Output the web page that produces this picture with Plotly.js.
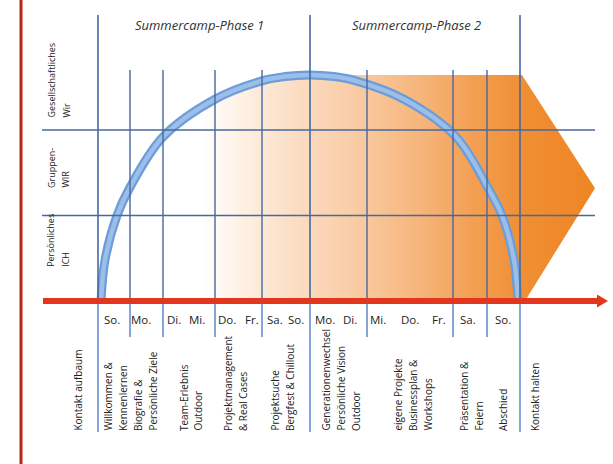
<!DOCTYPE html>
<html>
<head>
<meta charset="utf-8">
<script src="https://cdn.plot.ly/plotly-3.0.1.min.js"></script>
<style>html,body{margin:0;padding:0;background:#fff}#chart{width:613px;height:464px}</style>
</head>
<body>
<div id="chart"></div>
<script>
// ---------- DATA ----------
const phaseTitles = ["Summercamp-Phase 1", "Summercamp-Phase 2"];
const levelLabels = [["Gesellschaftliches", "Wir"], ["Gruppen-", "WIR"], ["Persönliches", "ICH"]];
const levels = [1, 2];
const dayLabels = ["So.", "Mo.", "Di.", "Mi.", "Do.", "Fr.", "Sa.", "So.", "Mo.", "Di.", "Mi.", "Do.", "Fr.", "Sa.", "So."];
const activities = [
  ["Kontakt aufbaum"],
  ["Willkommen &", "Kennenlernen", "Biografie &", "Persönliche Ziele"],
  ["Team-Erlebnis", "Outdoor"],
  ["Projektmanagement", "& Real Cases"],
  ["Projektsuche", "Bergfest & Chillout"],
  ["Generationenwechsel", "Persönliche Vision", "Outdoor"],
  ["eigene Projekte", "Businessplan &", "Workshops"],
  ["Präsentation &", "Feiern"],
  ["Abschied"],
  ["Kontakt halten"]
];
// curve of development: x on timeline, y in levels
const arcX = [101, 105, 117, 130, 163, 215, 262, 285, 309, 334, 356, 404, 456, 489, 502, 514, 518];
const arcY = [0, 0.48, 1, 1.33, 1.92, 2.36, 2.575, 2.625, 2.643, 2.625, 2.575, 2.36, 1.92, 1.3, 1, 0.48, 0];
// orange arrow outline beyond the curve top
const arrowX = [522, 595, 525];
const arrowY = [2.643, 1.32, 0];

// ---------- GEOMETRY (layout) ----------
const dividerLong = [98, 310, 520];
const dividerShort = [130, 163, 215, 262, 367, 453, 487];
const dayX = [112, 141, 174, 197, 227, 252, 275, 296, 325, 350, 378, 410, 439, 468, 503];
const activityX = [78, 130.5, 191, 235.5, 282.5, 341, 413, 471.5, 503, 535];
const phaseX = [199, 416];
const levelLabelBase = [2.117, 1.298, 0.37];
const Y_TOP = 3.520, Y_BOT = -1.906;

const gridDark = '#46689f', gridLight = '#85a6d6';
const shapes = [];
dividerLong.forEach(x => {
  shapes.push({type: 'line', xref: 'x', yref: 'y', x0: x, x1: x, y0: 0, y1: 3.345, line: {color: gridDark, width: 1.6}, layer: 'above'});
  shapes.push({type: 'line', xref: 'x', yref: 'y', x0: x, x1: x, y0: -1.532, y1: 0, line: {color: gridLight, width: 2}, layer: 'above'});
});
dividerShort.forEach(x => {
  shapes.push({type: 'line', xref: 'x', yref: 'y', x0: x, x1: x, y0: 0, y1: 2.702, line: {color: gridDark, width: 1.4}, layer: 'above'});
  shapes.push({type: 'line', xref: 'x', yref: 'y', x0: x, x1: x, y0: -0.421, y1: 0, line: {color: gridLight, width: 2}, layer: 'above'});
});
levels.forEach(l => {
  shapes.push({type: 'line', xref: 'x', yref: 'y', x0: 42, x1: 595, y0: l, y1: l, line: {color: gridDark, width: 1.6}, layer: 'above'});
});
// red time axis with arrow
shapes.push({type: 'line', xref: 'x', yref: 'y', x0: 43, x1: 600, y0: 0, y1: 0, line: {color: '#e2361f', width: 6}, layer: 'above'});
shapes.push({type: 'path', xref: 'x', yref: 'y', path: 'M 597,0.075 L 608,0 L 597,-0.075 Z', fillcolor: '#e2361f', line: {width: 0}, layer: 'above'});
// left red border
shapes.push({type: 'line', xref: 'x', yref: 'y', x0: 21, x1: 21, y0: Y_BOT, y1: Y_TOP, line: {color: '#b0281c', width: 3}, layer: 'above'});

const annotations = [];
const txt = '#222';
phaseTitles.forEach((t, i) => annotations.push({x: phaseX[i], y: 3.228, xref: 'x', yref: 'y', text: '<i>' + t + '</i>', showarrow: false, font: {family: 'Open Sans', size: 13, color: '#333'}}));
dayLabels.forEach((d, i) => annotations.push({x: dayX[i], y: -0.222, xref: 'x', yref: 'y', text: d, showarrow: false, font: {family: 'Open Sans', size: 11.5, color: txt}}));
activities.forEach((lines, g) => {
  const n = lines.length;
  lines.forEach((ln, i) => annotations.push({
    x: activityX[g] + (i - (n - 1) / 2) * 15, y: -1.544, xref: 'x', yref: 'y', text: ln, textangle: -90,
    xanchor: 'center', yanchor: 'bottom', showarrow: false, font: {family: 'Open Sans', size: 10, color: txt}
  }));
});
levelLabels.forEach((lines, g) => {
  const n = lines.length;
  lines.forEach((ln, i) => annotations.push({
    x: 58.5 + (i - (n - 1) / 2) * 15, y: levelLabelBase[g], xref: 'x', yref: 'y', text: ln, textangle: -90,
    xanchor: 'center', yanchor: 'bottom', showarrow: false, font: {family: 'Open Sans', size: 9, color: txt}
  }));
});

// orange field: left half of curve, flat top, arrow tip
const half = arcY.indexOf(Math.max(...arcY));
const fillX = arcX.slice(0, half + 1).concat(arrowX, [arcX[0]]);
const fillY = arcY.slice(0, half + 1).concat(arrowY, [arcY[0]]);

const traces = [
  {x: fillX, y: fillY, type: 'scatter', mode: 'lines', fill: 'toself', line: {width: 0},
    fillgradient: {type: 'horizontal', start: 101, stop: 595, colorscale: [
      [0, 'rgba(255,255,255,0)'], [0.2, 'rgba(253,238,224,0)'], [0.3, '#fdeedf'], [0.4, '#fbdcc2'],
      [0.52, '#f9cba2'], [0.646, '#f6b57b'], [0.75, '#f3a054'], [0.85, '#f08f35'], [1, '#ee8522']]},
    hoverinfo: 'skip', showlegend: false},
  {x: arcX, y: arcY, type: 'scatter', mode: 'lines', line: {color: '#6d9dd9', width: 9, shape: 'spline', smoothing: 1}, hoverinfo: 'skip', showlegend: false},
  {x: arcX, y: arcY, type: 'scatter', mode: 'lines', line: {color: '#9cbfe9', width: 4.5, shape: 'spline', smoothing: 1}, hoverinfo: 'skip', showlegend: false}
];

const layout = {
  width: 613, height: 464, margin: {l: 0, r: 0, t: 0, b: 0},
  paper_bgcolor: '#fff', plot_bgcolor: '#fff', showlegend: false,
  xaxis: {range: [0, 613], visible: false, fixedrange: true},
  yaxis: {range: [Y_BOT, Y_TOP], visible: false, fixedrange: true},
  shapes: shapes, annotations: annotations
};
Plotly.newPlot('chart', traces, layout, {displayModeBar: false, staticPlot: true});
</script>
</body>
</html>
